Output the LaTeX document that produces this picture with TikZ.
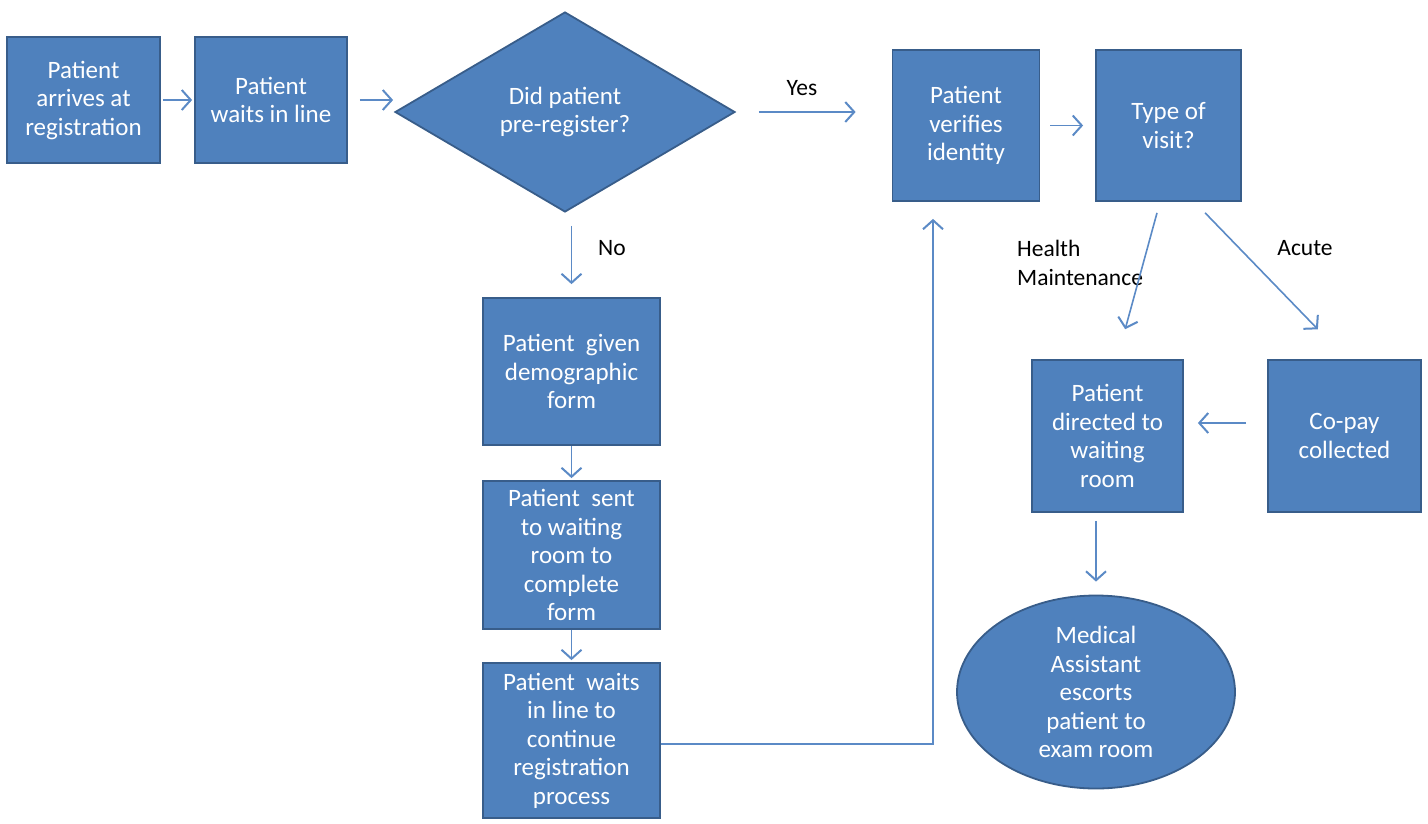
\documentclass[tikz,border=0pt]{standalone}
\usepackage{fontspec}
\setmainfont{Carlito}
\usetikzlibrary{shapes.geometric,arrows.meta}
\definecolor{boxfill}{HTML}{4F81BD}
\definecolor{boxline}{HTML}{385D8A}
\definecolor{arr}{HTML}{5B8AC6}
\begin{document}
\begin{tikzpicture}[x=1pt,y=-1pt,
  box/.style={draw=boxline, line width=1.8pt, fill=boxfill, text=white, align=center,
              font=\fontsize{25}{28.5}\selectfont, inner sep=2pt},
  flow/.style={draw=arr, line width=1.6pt, -{Straight Barb[length=9pt,width=20pt,line width=2pt]}},
  lbl/.style={font=\fontsize{23.5}{29}\selectfont, text=black, inner sep=0pt}]
\useasboundingbox (0,0) rectangle (1428,823);
\fill[white] (0,0) rectangle (1428,823);

\node[box, minimum width=153pt, minimum height=126pt] (arrive) at (83.5,100) {Patient\\arrives at\\registration};
\node[box, minimum width=152pt, minimum height=126pt] (wait) at (271,100) {Patient\\waits in line};
\node[box, diamond, aspect=1.7, inner sep=0pt, minimum width=340pt, minimum height=200pt] (pre) at (565,112) {Did patient\\pre-register?};
\node[box, minimum width=147pt, minimum height=151pt] (verify) at (966,125.5) {Patient\\verifies\\identity};
\node[box, minimum width=145pt, minimum height=151pt] (type) at (1168.5,125.5) {Type of\\visit?};
\node[box, minimum width=177pt, minimum height=147pt] (demo) at (571.5,371.5) {Patient\ \ given\\demographic\\form};
\node[box, minimum width=177pt, minimum height=148pt] (sent) at (571.5,555) {Patient\ \ sent\\to waiting\\room to\\complete\\form};
\node[box, minimum width=177pt, minimum height=155pt] (again) at (571.5,740.5) {Patient\ \ waits\\in line to\\continue\\registration\\process};
\node[box, minimum width=151pt, minimum height=152pt] (directed) at (1107.5,436) {Patient\\directed to\\waiting\\room};
\node[box, minimum width=153pt, minimum height=152pt] (copay) at (1344.5,436) {Co-pay\\collected};
\node[box, ellipse, inner sep=0pt, minimum width=278pt, minimum height=193pt] (escort) at (1096,692) {Medical\\Assistant\\escorts\\patient to\\exam room};

\node[lbl] (yes) at (802,88) {Yes};
\node[lbl] (no) at (612,248) {No};
\node[lbl, align=left, anchor=west] (hm) at (1017,263) {Health\\Maintenance};
\node[lbl] (acute) at (1305,248) {Acute};

\draw[flow, shorten <=2pt, shorten >=2pt] (arrive.east) -- (wait.west);
\draw[flow, shorten <=12pt, shorten >=1pt] (wait.east) -- (wait.east -| pre.west);
\draw[flow, shorten <=23pt, shorten >=36pt] (pre.east) -- (pre.east -| verify.west);
\draw[flow, shorten <=13pt, shorten >=13pt] (demo.north |- pre.south) -- (demo.north);
\draw[flow, shorten >=2pt] (demo.south) -- (sent.north);
\draw[flow, shorten >=2pt] (sent.south) -- (again.north);
\draw[flow, shorten >=17pt] ([yshift=-3.5pt]again.east) -| ([xshift=-33pt]verify.south);
\draw[flow, shorten <=10pt, shorten >=12pt] (verify.east) -- (type.west);
\draw[flow, shorten <=11.4pt, shorten >=31pt] ([xshift=-8.5pt]type.south) -- ([xshift=9.5pt]directed.north);
\draw[flow, shorten <=15.2pt, shorten >=41.5pt] ([xshift=26pt]type.south) -- ([xshift=2.2pt]copay.north);
\draw[flow, shorten <=21pt, shorten >=14pt] ([yshift=13pt]copay.west) -- ([yshift=13pt]directed.east);
\draw[flow, shorten <=8pt, shorten >=13pt] (escort.north |- directed.south) -- (escort.north);
\end{tikzpicture}
\end{document}
